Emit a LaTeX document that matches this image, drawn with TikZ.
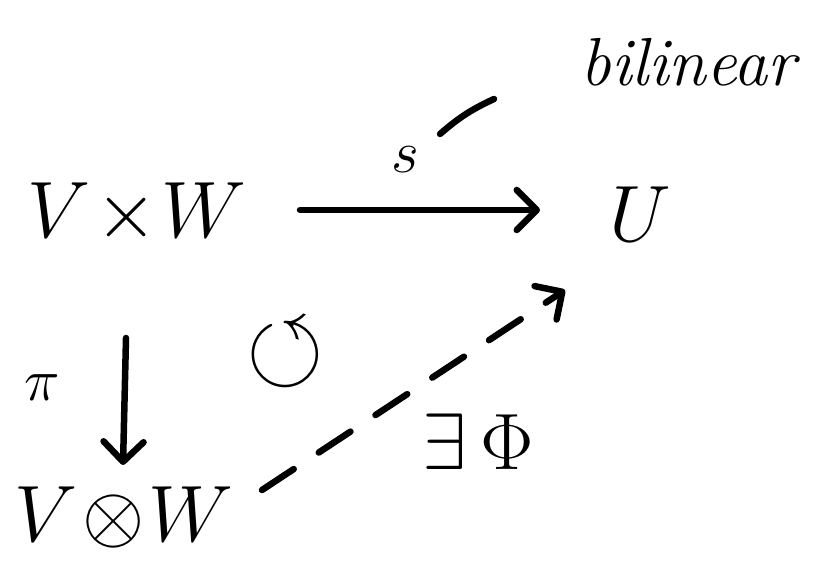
\RequirePackage{fix-cm}
\documentclass[tikz,border=0pt]{standalone}
\usepackage{amsmath,amssymb}
\usetikzlibrary{arrows.meta}
\begin{document}
\begin{tikzpicture}[x=1pt,y=-1pt,line width=6.5pt,line cap=round,line join=round,
  big/.style={font=\fontsize{80}{90}\selectfont,inner sep=0pt},
  mid/.style={font=\fontsize{60}{66}\selectfont,inner sep=0pt},
  arr/.style={-{Straight Barb[length=20pt,width=40pt,line width=6.5pt,round]}},
  dashline/.style={dash pattern=on 38pt off 30pt}]
\useasboundingbox (0,0) rectangle (820,577);
\node[big] (vw) at (137,214) {$V\!\times\! W$};
\node[big] (u) at (640,214) {$U$};
\node[big] (tens) at (124,517) {$V\!\otimes\! W$};
\node[mid] (s) at (405,160) {$s$};
\node[font=\fontsize{68}{74}\selectfont,inner sep=0pt] (bil) at (688,62) {\itshape bilinear};
\node[mid] (pi) at (42,388) {$\pi$};
\node[font=\fontsize{100}{110}\selectfont,inner sep=0pt] (comm) at (285,355) {$\circlearrowleft$};
\node[big] (phi) at (478,442) {$\exists\,\Phi$};
\coordinate (sa) at (300,210);
\coordinate (sb) at (540,210);
\coordinate (pa) at (126,338);
\coordinate (pb) at (123,465);
\coordinate (da) at (262,490);
\coordinate (db) at (565,290);
\coordinate (ba) at (440,134);
\coordinate (bb) at (494,99);
\draw[arr] (sa) -- (sb);
\draw[arr] (pa) -- (pb);
\draw[arr,dashline] (da) -- (db);
\draw (ba) to[bend left=8] (bb);
\end{tikzpicture}
\end{document}
